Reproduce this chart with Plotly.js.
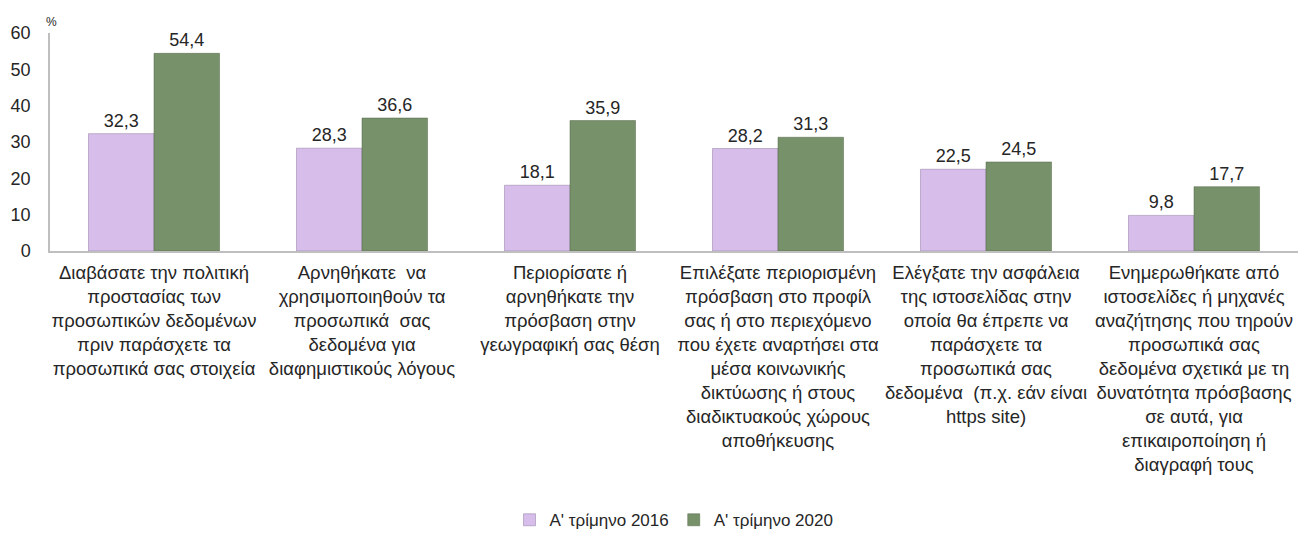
<!DOCTYPE html>
<html><head><meta charset="utf-8">
<script src="https://cdn.plot.ly/plotly-3.0.1.min.js"></script>
<style>body{margin:0;background:#fff}#c{width:1298px;height:539px}</style>
</head><body><div id="c"></div>
<script>
const categories = [
 "Διαβάσατε την πολιτική<br>προστασίας των<br>προσωπικών δεδομένων<br>πριν παράσχετε τα<br>προσωπικά σας στοιχεία",
 "Αρνηθήκατε  να<br>χρησιμοποιηθούν τα<br>προσωπικά  σας<br>δεδομένα για<br>διαφημιστικούς λόγους",
 "Περιορίσατε ή<br>αρνηθήκατε την<br>πρόσβαση στην<br>γεωγραφική σας θέση",
 "Επιλέξατε περιορισμένη<br>πρόσβαση στο προφίλ<br>σας ή στο περιεχόμενο<br>που έχετε αναρτήσει στα<br>μέσα κοινωνικής<br>δικτύωσης ή στους<br>διαδικτυακούς χώρους<br>αποθήκευσης",
 "Ελέγξατε την ασφάλεια<br>της ιστοσελίδας στην<br>οποία θα έπρεπε να<br>παράσχετε τα<br>προσωπικά σας<br>δεδομένα  (π.χ. εάν είναι<br>https site)",
 "Ενημερωθήκατε από<br>ιστοσελίδες ή μηχανές<br>αναζήτησης που τηρούν<br>προσωπικά σας<br>δεδομένα σχετικά με τη<br>δυνατότητα πρόσβασης<br>σε αυτά, για<br>επικαιροποίηση ή<br>διαγραφή τους"
];
const series2016 = [32.3, 28.3, 18.1, 28.2, 22.5, 9.8];
const series2020 = [54.4, 36.6, 35.9, 31.3, 24.5, 17.7];
const seriesNames = ["Α' τρίμηνο 2016", "Α' τρίμηνο 2020"];
const yTicks = [0, 10, 20, 30, 40, 50, 60];

const font = "Liberation Sans, Arial, sans-serif";
const traces = [
 {type:'bar', x:categories, y:series2016, name:seriesNames[0],
  marker:{color:'#D6BDEA', line:{color:'#8E7A9E', width:0.5}},
  texttemplate:'%{y:.1f}', textposition:'outside',
  textfont:{size:18, color:'#262626', family:font}, cliponaxis:false},
 {type:'bar', x:categories, y:series2020, name:seriesNames[1],
  marker:{color:'#77916A', line:{color:'#526747', width:0.5}},
  texttemplate:'%{y:.1f}', textposition:'outside',
  textfont:{size:18, color:'#262626', family:font}, cliponaxis:false}
];
const layout = {
 width:1298, height:539, separators:',.',
 margin:{l:50, r:0, t:33, b:284},
 barmode:'group', bargap:0.37, bargroupgap:0,
 paper_bgcolor:'#fff', plot_bgcolor:'#fff',
 font:{family:font, color:'#262626'},
 xaxis:{tickfont:{size:18.5, family:font, color:'#262626'}, showline:true, linecolor:'#BFBFBF', linewidth:1.5, ticks:'', tickangle:0, ticklabelstandoff:4, automargin:false},
 yaxis:{range:[0,60], tickvals:yTicks, tickfont:{size:18, family:font, color:'#262626'}, showline:true, linecolor:'#BFBFBF', linewidth:1.5, showgrid:false, zeroline:false, ticks:'', ticklabelstandoff:14, automargin:false},
 showlegend:true,
 legend:{orientation:'h', x:0.5, xanchor:'center', y:-1.235, yanchor:'middle', yref:'paper', font:{size:17, family:font, color:'#262626'}, traceorder:'normal', itemwidth:30},
 annotations:[{text:'%', xref:'paper', yref:'paper', x:0, y:1, xshift:-6, yshift:20, showarrow:false, font:{size:12, family:font, color:'#262626'}}]
};
Plotly.newPlot('c', traces, layout, {displayModeBar:false});
</script></body></html>
